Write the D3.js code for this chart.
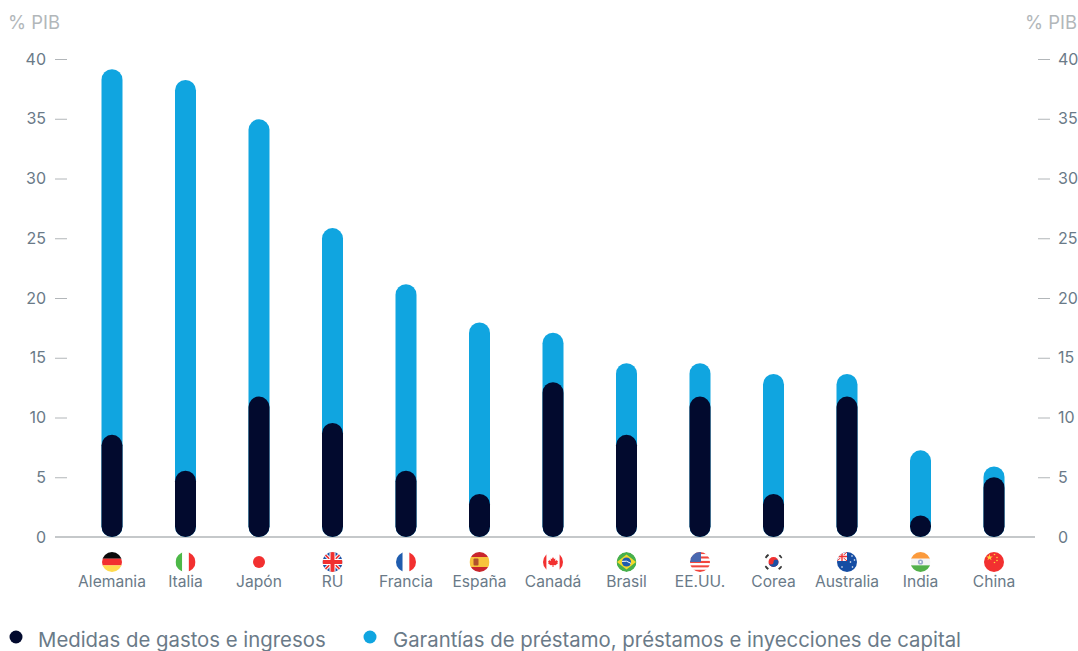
<!DOCTYPE html>
<html lang="es">
<head>
<meta charset="utf-8">
<script src="https://cdn.jsdelivr.net/npm/d3@7"></script>
<style>
  html, body { margin: 0; padding: 0; background: #fff; overflow: hidden; }
  svg { display: block; font-family: Inter, "Noto Sans", sans-serif; }
</style>
</head>
<body>
<svg id="chart" width="1078" height="651"></svg>
<script>
const paises = ["Alemania", "Italia", "Japón", "RU", "Francia", "España", "Canadá", "Brasil", "EE.UU.", "Corea", "Australia", "India", "China"];
const codigos = ["de", "it", "jp", "gb", "fr", "es", "ca", "br", "us", "kr", "au", "in", "cn"];
const totalGarantias = [39.15, 38.25, 34.95, 25.85, 21.15, 17.95, 17.1, 14.55, 14.55, 13.65, 13.65, 7.25, 5.9];
const gastosIngresos = [8.55, 5.55, 11.75, 9.55, 5.55, 3.6, 12.95, 8.55, 11.75, 3.6, 11.75, 1.8, 5.0];
const ticks = [0, 5, 10, 15, 20, 25, 30, 35, 40];
const leyenda = ["Medidas de gastos e ingresos", "Garantías de préstamo, préstamos e inyecciones de capital"];
const unidad = "% PIB";

const AZUL = "#10a5e0", NAVY = "#020a2e", GRIS = "#6a7a88", GRIS_CLARO = "#b2b7ba", LINEA = "#b2b6b9";
const svg = d3.select("#chart");

const y = d3.scaleLinear().domain([0, 40]).range([537, 59]);
const x = d3.scalePoint().domain(paises).range([112, 994]);
const anchoBarra = 21;

// Eje inferior
svg.append("line").attr("x1", 55).attr("x2", 1035).attr("y1", y(0)).attr("y2", y(0))
  .attr("stroke", LINEA).attr("stroke-width", 1.4);

// Ejes de valores a ambos lados
const ejeIzq = d3.axisLeft(y).tickValues(ticks).tickSize(12).tickPadding(9);
const ejeDer = d3.axisRight(y).tickValues(ticks).tickSize(12).tickPadding(8);
function estiloEje(g) {
  g.select(".domain").remove();
  g.selectAll(".tick line").attr("stroke", LINEA).attr("stroke-width", 1)
    .attr("display", d => d === 0 ? "none" : null);
  g.selectAll(".tick text").attr("fill", GRIS).attr("font-size", 16).attr("font-family", "Inter, sans-serif");
}
svg.append("g").attr("transform", "translate(67,0)").call(ejeIzq).call(estiloEje);
svg.append("g").attr("transform", "translate(1038,0)").call(ejeDer).call(estiloEje);

// Unidad arriba de cada eje
svg.append("text").attr("x", 8).attr("y", 29).attr("font-size", 18.4).attr("fill", GRIS_CLARO).text(unidad);
svg.append("text").attr("x", 1077).attr("y", 29).attr("text-anchor", "end").attr("font-size", 18.4).attr("fill", GRIS_CLARO).text(unidad);

// Barras redondeadas: la azul detrás y la oscura delante
function barras(valores, color) {
  svg.append("g").selectAll("rect").data(valores).join("rect")
    .attr("x", (d, i) => x(paises[i]) - anchoBarra / 2)
    .attr("width", anchoBarra)
    .attr("y", d => y(d))
    .attr("height", d => y(0) - y(d))
    .attr("rx", anchoBarra / 2)
    .attr("fill", color);
}
barras(totalGarantias, AZUL);
barras(gastosIngresos, NAVY);

// Banderas circulares dibujadas en un cuadro local de 20x20 centrado en 0,0
const defs = svg.append("defs");
defs.append("clipPath").attr("id", "disco").append("circle").attr("r", 10);

function franjasH(g, colores) {
  const h = 20 / colores.length;
  colores.forEach((c, i) => g.append("rect").attr("x", -10).attr("y", -10 + i * h).attr("width", 20).attr("height", h + 0.1).attr("fill", c));
}
function franjasV(g, colores) {
  const w = 20 / colores.length;
  colores.forEach((c, i) => g.append("rect").attr("x", -10 + i * w).attr("y", -10).attr("width", w + 0.1).attr("height", 20).attr("fill", c));
}
function union(g) {
  g.append("rect").attr("x", -10).attr("y", -10).attr("width", 20).attr("height", 20).attr("fill", "#1c51a5");
  g.append("path").attr("d", "M-10-10L10 10M10-10L-10 10").attr("stroke", "#fff").attr("stroke-width", 3.6);
  g.append("path").attr("d", "M-10-10L10 10M10-10L-10 10").attr("stroke", "#f03030").attr("stroke-width", 1.6);
  g.append("path").attr("d", "M0-10V10M-10 0H10").attr("stroke", "#fff").attr("stroke-width", 6);
  g.append("path").attr("d", "M0-10V10M-10 0H10").attr("stroke", "#f03030").attr("stroke-width", 4);
}
const ROJO = "#f23030";
const banderas = {
  de: g => franjasH(g, ["#0a0a0a", ROJO, "#ffdb4d"]),
  it: g => franjasV(g, ["#4db848", "#fff", ROJO]),
  jp: g => {
    g.append("circle").attr("r", 10).attr("fill", "#fff");
    g.append("circle").attr("r", 6).attr("fill", ROJO);
  },
  gb: union,
  fr: g => franjasV(g, ["#1f5cae", "#fff", ROJO]),
  es: g => {
    franjasH(g, ["#c9252c", "#f7c33c", "#f7c33c", "#c9252c"]);
    g.append("rect").attr("x", -6).attr("y", -3.5).attr("width", 5).attr("height", 7).attr("rx", 1).attr("fill", "#b0522c");
  },
  ca: g => {
    g.append("rect").attr("x", -10).attr("y", -10).attr("width", 20).attr("height", 20).attr("fill", "#fff");
    g.append("rect").attr("x", -10).attr("y", -10).attr("width", 3.4).attr("height", 20).attr("fill", ROJO);
    g.append("rect").attr("x", 6.6).attr("y", -10).attr("width", 3.4).attr("height", 20).attr("fill", ROJO);
    g.append("path").attr("fill", ROJO)
      .attr("d", "M0-5L1.1-2.9L2.4-3.6L1.9-.8L3.4-2.2L3.9-1.1L5-1.3L4.4.8L5 1.3L2.4 3.2L.5 2.9V5H-.5V2.9L-2.4 3.2L-5 1.3L-4.4.8L-5-1.3L-3.9-1.1L-3.4-2.2L-1.9-.8L-2.4-3.6L-1.1-2.9Z");
  },
  br: g => {
    g.append("circle").attr("r", 10).attr("fill", "#47b04b");
    g.append("path").attr("d", "M-9.5 0L0-7.5L9.5 0L0 7.5Z").attr("fill", "#f4da2c");
    g.append("circle").attr("r", 4.6).attr("fill", "#1f5cae");
    g.append("path").attr("d", "M-4.5-.6Q0-2 4.5 1.4").attr("fill", "none").attr("stroke", "#fff").attr("stroke-width", 1);
  },
  us: g => {
    const rayas = d3.range(9).map(i => i % 2 ? "#fff" : "#f2453d");
    franjasH(g, rayas);
    g.append("rect").attr("x", -10).attr("y", -10).attr("width", 11).attr("height", 10).attr("fill", "#4a68b0");
  },
  kr: g => {
    g.append("circle").attr("r", 10).attr("fill", "#fff");
    g.append("circle").attr("r", 5).attr("fill", ROJO);
    g.append("path").attr("d", "M-5 0A5 5 0 0 0 5 0A2.5 2.5 0 0 0 0 0A2.5 2.5 0 0 1-5 0Z").attr("fill", "#1c51a5");
    g.append("path").attr("d", "M-8.2-4.4L-5.2-7.6M6-7L8.6-4.2M-8.4 4.4L-5.4 7.4M5.4 7.4L8.4 4.6")
      .attr("stroke", "#3a3a3a").attr("stroke-width", 2.4).attr("fill", "none");
  },
  au: g => {
    g.append("rect").attr("x", -10).attr("y", -10).attr("width", 20).attr("height", 20).attr("fill", "#154da3");
    g.append("rect").attr("x", -10).attr("y", -10).attr("width", 10).attr("height", 9).attr("fill", "#f3f4f8");
    g.append("path").attr("d", "M-10-10L0-1M0-10L-10-1").attr("stroke", ROJO).attr("stroke-width", 1);
    g.append("path").attr("d", "M-5-10V-1M-10-5.5H0").attr("stroke", "#fff").attr("stroke-width", 2.6);
    g.append("path").attr("d", "M-5-10V-1M-10-5.5H0").attr("stroke", ROJO).attr("stroke-width", 1.4);
    g.selectAll("circle.estrella").data([[5, -6], [7.5, -2], [3.5, 0], [5.5, 5], [-5, 5]]).join("circle")
      .attr("cx", d => d[0]).attr("cy", d => d[1]).attr("r", 0.8).attr("fill", "#fff");
  },
  in: g => {
    franjasH(g, ["#fb9a3c", "#f4f4f4", "#53b04a"]);
    g.append("circle").attr("r", 2.6).attr("fill", "#9aa8cc");
    g.append("circle").attr("r", 1).attr("fill", "#fff");
  },
  cn: g => {
    g.append("rect").attr("x", -10).attr("y", -10).attr("width", 20).attr("height", 20).attr("fill", ROJO);
    g.append("path").attr("d", d3.symbol(d3.symbolStar, 14)).attr("transform", "translate(-4.5,-4.5)").attr("fill", "#ffd23c");
    g.selectAll("circle.e").data([[0.5, -7.5], [3, -4.5], [3, -1.5], [0.5, 0.5]]).join("circle")
      .attr("cx", d => d[0]).attr("cy", d => d[1]).attr("r", 0.8).attr("fill", "#ffd23c");
  }
};

svg.append("g").selectAll("g").data(paises).join("g")
  .attr("transform", d => `translate(${x(d)},562)`)
  .each(function (d, i) {
    const g = d3.select(this).append("g").attr("clip-path", "url(#disco)");
    banderas[codigos[i]](g);
  });

// Nombres de país
svg.append("g").selectAll("text").data(paises).join("text")
  .attr("x", d => x(d)).attr("y", 587)
  .attr("text-anchor", "middle").attr("font-size", 15.6).attr("fill", GRIS)
  .text(d => d);

// Leyenda
const legendaX = [16, 370], legendaColor = [NAVY, AZUL], legendaTextoX = [38, 393];
leyenda.forEach((t, i) => {
  svg.append("circle").attr("cx", legendaX[i]).attr("cy", 637).attr("r", 6.5).attr("fill", legendaColor[i]);
  svg.append("text").attr("x", legendaTextoX[i]).attr("y", 646.5).attr("font-size", 20.35).attr("fill", GRIS).text(t);
});
</script>
</body>
</html>
